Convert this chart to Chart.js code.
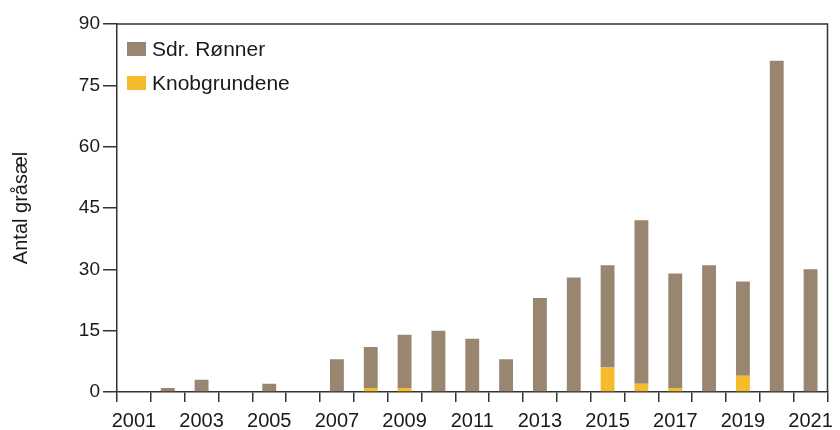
<!DOCTYPE html>
<html lang="da">
<head>
<meta charset="UTF-8">
<title>Antal gråsæl</title>
<style>
  html, body { margin: 0; padding: 0; background: #fff; }
  .wrap { width: 840px; height: 430px; position: relative; }
</style>
</head>
<body>
<div class="wrap"><canvas id="chart"></canvas></div>
<script src="https://cdn.jsdelivr.net/npm/chart.js"></script>
<script>
  const years = ['2001', '2002', '2003', '2004', '2005', '2006', '2007', '2008', '2009', '2010', '2011',
                 '2012', '2013', '2014', '2015', '2016', '2017', '2018', '2019', '2020', '2021'];
  const sdrRonner    = [0, 1, 3, 0, 2, 0, 8, 10, 13, 15, 13, 8, 23, 28, 25, 40, 28, 31, 23, 81, 30];
  const knobgrundene = [0, 0, 0, 0, 0, 0, 0, 1, 1, 0, 0, 0, 0, 0, 6, 2, 1, 0, 4, 0, 0];
  const yTicks = [0, 15, 30, 45, 60, 75, 90];

  const ink = '#1a1a1a';
  const lineCol = '#333';
  const family = 'Liberation Sans, Arial, sans-serif';

  // top and right edge of the plot box
  const frame = {
    id: 'frame',
    afterDraw(chart) {
      const { ctx, chartArea: a } = chart;
      ctx.save();
      ctx.strokeStyle = lineCol;
      ctx.lineWidth = 1.5;
      ctx.beginPath();
      ctx.moveTo(a.left, a.top);
      ctx.lineTo(a.right, a.top);
      ctx.lineTo(a.right, a.bottom);
      ctx.stroke();
      ctx.restore();
    }
  };

  // legend stacked in the top-left corner of the plot box, top series first
  const cornerLegend = {
    id: 'cornerLegend',
    afterDraw(chart) {
      const { ctx, chartArea: a } = chart;
      const sets = chart.data.datasets.slice().reverse();
      ctx.save();
      ctx.font = '21px ' + family;
      ctx.textBaseline = 'middle';
      sets.forEach((ds, i) => {
        const cy = a.top + 25 + i * 34;
        ctx.fillStyle = ds.backgroundColor;
        ctx.fillRect(a.left + 10, cy - 7, 19, 14);
        ctx.fillStyle = ink;
        ctx.fillText(ds.label, a.left + 35, cy + 1);
      });
      ctx.restore();
    }
  };

  new Chart(document.getElementById('chart'), {
    type: 'bar',
    data: {
      labels: years,
      datasets: [
        { label: 'Knobgrundene', data: knobgrundene, backgroundColor: '#f4bb2c' },
        { label: 'Sdr. Rønner', data: sdrRonner, backgroundColor: '#998670' }
      ]
    },
    options: {
      responsive: true,
      maintainAspectRatio: false,
      animation: false,
      datasets: { bar: { barPercentage: 0.41, categoryPercentage: 1 } },
      layout: { padding: { top: 24, right: 7, left: 0, bottom: 0 } },
      plugins: {
        tooltip: { enabled: false },
        legend: { display: false }
      },
      scales: {
        x: {
          stacked: true,
          offset: true,
          afterFit(scale) { scale.height = 38; },
          grid: {
            offset: true,
            drawOnChartArea: false,
            tickLength: 10,
            color: lineCol,
            lineWidth: 1.5
          },
          border: { color: lineCol, width: 1.5 },
          ticks: {
            color: ink,
            font: { family: family, size: 20 },
            maxRotation: 0,
            autoSkip: false,
            padding: 7,
            callback(v, i) { return i % 2 === 0 ? years[i] : ''; }
          }
        },
        y: {
          stacked: true,
          min: 0,
          max: 90,
          afterFit(scale) { scale.width = 117; },
          afterBuildTicks(scale) { scale.ticks = yTicks.map(v => ({ value: v })); },
          grid: {
            drawOnChartArea: false,
            tickLength: 14,
            color: lineCol,
            lineWidth: 1.5
          },
          border: { color: lineCol, width: 1.5 },
          ticks: { color: ink, font: { family: family, size: 19 }, padding: 3 },
          title: {
            display: true,
            text: 'Antal gråsæl',
            color: ink,
            font: { family: family, size: 20 },
            padding: { top: 9, bottom: 16 }
          }
        }
      }
    },
    plugins: [frame, cornerLegend]
  });
</script>
</body>
</html>
